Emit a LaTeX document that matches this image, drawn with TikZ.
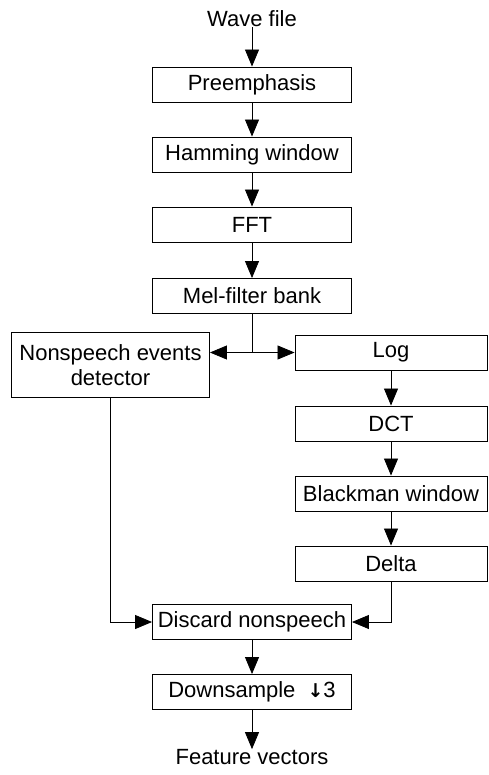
\documentclass[tikz,border=0pt]{standalone}
\usepackage{fontspec}
\setmainfont{Liberation Sans}
\newfontfamily\arrowfont{DejaVu Sans}
\usepackage{tikz}
\usetikzlibrary{arrows.meta}
\tikzstyle{block} = [draw,rectangle,fill=white,line width=0.9pt,minimum width=199pt,minimum height=35pt,inner sep=0pt,font=\fontsize{22}{25}\selectfont]
\tikzstyle{sideBlock} = [block,minimum width=192pt]
\tikzstyle{plain} = [inner sep=0pt,font=\fontsize{22}{25}\selectfont]
\tikzstyle{line} = [draw,line width=0.8pt]
\tikzstyle{arrowLine} = [draw,line width=0.8pt,-{Triangle[length=17pt,width=14pt]}]

\begin{document}
\begin{tikzpicture}[x=1pt,y=1pt,node distance=70pt]
		\useasboundingbox (0,0) rectangle (488,-775);
		\node[plain](wave) at (252,-19){Wave file};
		\node[block] at (252,-84.5)(preemph){Preemphasis};
		\node[block,below of=preemph](hamming){Hamming window};
		\node[block,below of=hamming](fft){FFT};
		\node[block,below of=fft,yshift=-1.5pt](mel){Mel-filter bank};
		\node[block,minimum width=198pt,minimum height=65pt,align=center] at (110.5,-365)(nonspeech){Nonspeech events\\detector};
		\node[sideBlock] at (391,-352.5)(log){Log};
		\node[sideBlock,below of=log,yshift=-1pt](dct){DCT};
		\node[sideBlock,below of=dct](blackman){Blackman window};
		\node[sideBlock,below of=blackman](delta){Delta};
		\node[block] at (252,-622)(discard){Discard nonspeech};
		\node[block,below of=discard](down){Downsample\hspace{12pt}{\arrowfont\bfseries\fontsize{19}{22}\selectfont ↓}3};
		\node[plain] at (252,-757)(feature){Feature vectors};
		\coordinate (split) at (mel.south |- log.west);
		%arrows
		\path[arrowLine](wave)--(preemph);
		\path[arrowLine](preemph)--(hamming);
		\path[arrowLine](hamming)--(fft);
		\path[arrowLine](fft)--(mel);
		\path[line](mel)--(split);
		\path[arrowLine](split)--(split -| nonspeech.east);
		\path[arrowLine](split)--(log.west);
		\path[arrowLine](log)--(dct);
		\path[arrowLine](dct)--(blackman);
		\path[arrowLine](blackman)--(delta);
		\path[arrowLine](nonspeech)|-(discard);
		\path[arrowLine](delta)|-(discard);
		\path[arrowLine](discard)--(down);
		\path[arrowLine](down)--(feature);
	\end{tikzpicture}
\end{document}
